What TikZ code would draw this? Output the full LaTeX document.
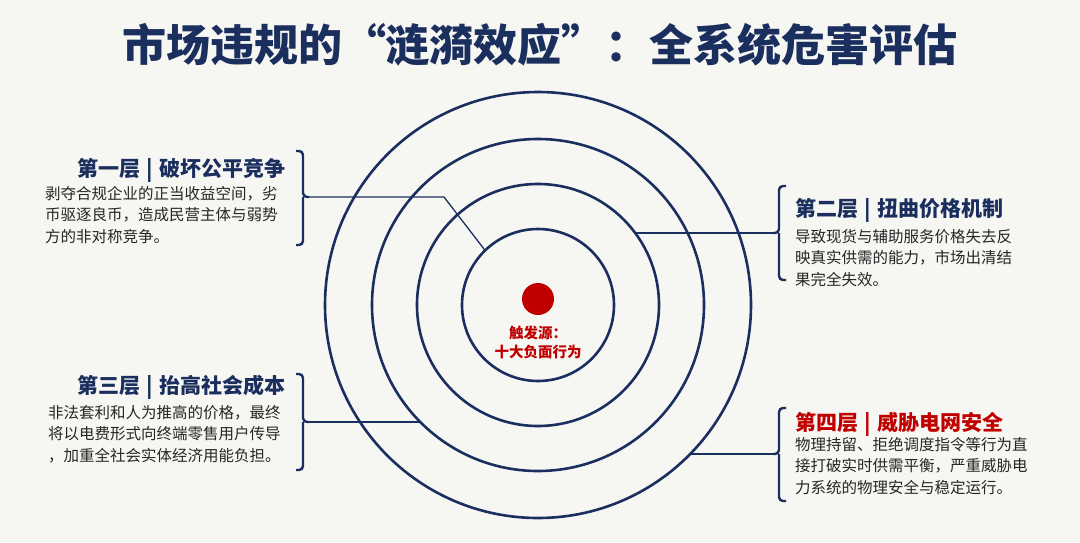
\documentclass[tikz,border=0pt]{standalone}
\usepackage{fontspec}
\setmainfont{Noto Sans CJK SC}
\newcommand{\lbar}{\hspace{0.3em}\textbf{|}\hspace{0.3em}}
\begin{document}
\begin{tikzpicture}[x=1pt,y=-1pt,
  ring/.style={draw=navy,line width=2.6pt,circle,inner sep=0pt},
  brace/.style={draw=navy,line width=2.4pt,rounded corners=4pt},
  conn/.style={draw=navy,line width=1.3pt},
  head/.style={font=\fontsize{21}{24}\selectfont\bfseries,text=navy,inner sep=0pt},
  body/.style={font=\fontsize{15.5}{21.5}\selectfont,text=black!85,align=left,inner sep=0pt,anchor=north west}]
\definecolor{navy}{HTML}{1B2F5E}
\definecolor{dred}{HTML}{C00000}
\fill[fill={rgb,255:red,246;green,246;blue,243}] (0,0) rectangle (1080,542);
\useasboundingbox (0,0) rectangle (1080,542);
\node[font=\fontsize{44}{48}\selectfont\bfseries,text=navy] (title) at (540,45) {市场违规的“涟漪效应”：全系统危害评估};
\coordinate (c) at (538,305);
\node[ring,minimum size=426pt] (r4) at (c) {};
\node[ring,minimum size=332pt] (r3) at (c) {};
\node[ring,minimum size=242pt] (r2) at (c) {};
\node[ring,minimum size=152pt] (r1) at (c) {};
\node[circle,fill=dred,minimum size=32pt,inner sep=0pt] (dot) at (538,299) {};
\node[font=\fontsize{14.5}{19}\selectfont\bfseries,text=dred,align=center] (src) at (538,342) {触发源：\\十大负面行为};
% layer 1
\node[head,anchor=base east] (h1) at (286,176) {第一层\lbar 破坏公平竞争};
\node[body] (b1) at (45,186) {剥夺合规企业的正当收益空间，劣\\币驱逐良币，造成民营主体与弱势\\方的非对称竞争。};
\draw[brace] (296,151) -- (303,151) -- (303,197) -- (309,197) (303,197) -- (303,245) -- (296,245);
\coordinate (k1) at (444,197);
\draw[conn] (309,197) -- (k1) -- (r1.134);
% layer 3
\node[head,anchor=base east] (h3) at (286,393) {第三层\lbar 抬高社会成本};
\node[body] (b3) at (48,405) {非法套利和人为推高的价格，最终\\将以电费形式向终端零售用户传导\\，加重全社会实体经济用能负担。};
\draw[brace] (296,374) -- (303,374) -- (303,422) -- (309,422) (303,422) -- (303,470) -- (296,470);
\coordinate (e3) at (420,422);
\draw[conn] (309,422) -- (e3);
% layer 2
\node[head,anchor=base west,text=navy] (h2) at (795,216) {第二层\lbar 扭曲价格机制};
\node[body] (b2) at (795,229) {导致现货与辅助服务价格失去反\\映真实供需的能力，市场出清结\\果完全失效。};
\draw[brace] (786,186) -- (779,186) -- (779,233) -- (773,233) (779,233) -- (779,280) -- (786,280);
\coordinate (e2) at (635,233);
\draw[conn] (773,233) -- (e2);
% layer 4
\node[head,anchor=base west,text=dred] (h4) at (795,430) {第四层\lbar 威胁电网安全};
\node[body] (b4) at (795,437) {物理持留、拒绝调度指令等行为直\\接打破实时供需平衡，严重威胁电\\力系统的物理安全与稳定运行。};
\draw[brace] (786,408) -- (779,408) -- (779,454) -- (773,454) (779,454) -- (779,501) -- (786,501);
\coordinate (e4) at (690,454);
\draw[conn] (773,454) -- (e4);
\end{tikzpicture}
\end{document}
